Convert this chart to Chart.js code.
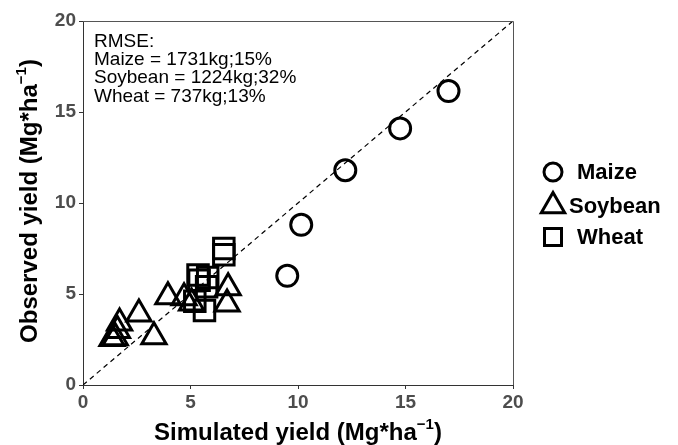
<!DOCTYPE html>
<html>
<head>
<meta charset="utf-8">
<script src="https://cdn.jsdelivr.net/npm/chart.js@4/dist/chart.umd.min.js"></script>
<style>
  html, body { margin: 0; padding: 0; background: #fff; }
  #wrap { width: 678px; height: 445px; }
</style>
</head>
<body>
<div id="wrap"><canvas id="chart" width="678" height="445"></canvas></div>
<script>
// simulated (x) vs observed (y) yield, Mg/ha
const maizeSim = [17.0, 14.75, 12.2, 10.15, 9.5];
const maizeObs = [16.15, 14.1, 11.8, 8.8, 6.0];

const soySim = [1.35, 1.5, 1.6, 1.7, 2.6, 3.3, 3.95, 4.7, 5.05, 6.75, 6.7];
const soyObs = [2.55, 2.6, 3.0, 3.4, 3.9, 2.65, 4.85, 4.8, 4.5, 5.35, 4.45];

const wheatSim = [6.55, 6.55, 5.35, 5.4, 5.8, 5.75, 5.65, 5.2];
const wheatObs = [7.5, 7.15, 6.05, 5.75, 5.9, 5.4, 4.1, 4.6];

const axisMin = 0;
const axisMax = 20;
const tickStep = 5;

const seriesNames = ["Maize", "Soybean", "Wheat"];
const seriesShapes = ["circle", "triangle", "rect"];

const rmseLines = [
    "RMSE:",
    "Maize = 1731kg;15%",
    "Soybean = 1224kg;32%",
    "Wheat = 737kg;13%"
];

const xTitle = "Simulated yield (Mg*ha";
const yTitle = "Observed yield (Mg*ha";
const unitSup = "\u22121";

const FONT = "'Liberation Sans', Arial, sans-serif";

function toPoints(xs, ys) {
    return xs.map((x, i) => ({ x: x, y: ys[i] }));
}

function drawTitle(ctx, text, sup, cx, baseY) {
    ctx.font = "bold 24px " + FONT;
    const w1 = ctx.measureText(text).width;
    ctx.font = "bold 15px " + FONT;
    const w2 = ctx.measureText(sup).width;
    ctx.font = "bold 24px " + FONT;
    const w3 = ctx.measureText(")").width;
    let x = cx - (w1 + w2 + w3) / 2;
    ctx.fillText(text, x, baseY);
    x += w1;
    ctx.font = "bold 15px " + FONT;
    ctx.fillText(sup, x, baseY - 11);
    x += w2;
    ctx.font = "bold 24px " + FONT;
    ctx.fillText(")", x, baseY);
}

function legendShape(ctx, shape, x, y) {
    ctx.beginPath();
    if (shape === "circle") {
        ctx.arc(x, y, 9, 0, Math.PI * 2);
    } else if (shape === "triangle") {
        const r = 13.5;
        ctx.moveTo(x, y - r);
        ctx.lineTo(x + r * 0.866, y + r / 2);
        ctx.lineTo(x - r * 0.866, y + r / 2);
        ctx.closePath();
    } else {
        ctx.rect(x - 8.5, y - 8.5, 17, 17);
    }
    ctx.stroke();
}

const decorations = {
    id: "decorations",
    afterDraw(chart) {
        const ctx = chart.ctx;
        const area = chart.chartArea;
        ctx.save();

        // panel border (top + right)
        ctx.strokeStyle = "#555";
        ctx.lineWidth = 1;
        ctx.beginPath();
        ctx.moveTo(area.left, Math.round(area.top) + 0.5);
        ctx.lineTo(Math.round(area.right) + 0.5, Math.round(area.top) + 0.5);
        ctx.lineTo(Math.round(area.right) + 0.5, area.bottom);
        ctx.stroke();

        // RMSE note
        ctx.fillStyle = "#000";
        ctx.font = "19px " + FONT;
        ctx.textAlign = "left";
        ctx.textBaseline = "alphabetic";
        rmseLines.forEach((line, i) => {
            ctx.fillText(line, 94, 46.5 + i * 18.35);
        });

        // axis titles
        drawTitle(ctx, xTitle, unitSup, 298, 440);
        ctx.save();
        ctx.translate(37, 201);
        ctx.rotate(-Math.PI / 2);
        drawTitle(ctx, yTitle, unitSup, 0, 0);
        ctx.restore();

        // legend
        const ly = [172, 206, 237];
        const lx = [577, 569, 577];
        ctx.strokeStyle = "#000";
        ctx.lineWidth = 3;
        ctx.lineJoin = "miter";
        seriesShapes.forEach((s, i) => legendShape(ctx, s, 553, ly[i]));
        ctx.font = "bold 22px " + FONT;
        ctx.textBaseline = "middle";
        seriesNames.forEach((n, i) => ctx.fillText(n, lx[i], ly[i] + 1));

        ctx.restore();
    }
};

function scaleOpts(isX) {
    return {
        type: "linear",
        min: axisMin,
        max: axisMax,
        ticks: {
            stepSize: tickStep,
            color: "#4d4d4d",
            font: { family: FONT, size: 19, weight: "bold" },
            padding: isX ? 2 : 3,
            maxRotation: 0
        },
        grid: {
            drawOnChartArea: false,
            drawTicks: true,
            tickLength: 4,
            color: "#333",
            lineWidth: 1
        },
        border: { display: true, color: "#333", width: 1 },
        afterFit: isX ? s => { s.height = 60; } : s => { s.width = 83; }
    };
}

function pointSet(name, shape, xs, ys, radius) {
    return {
        type: "scatter",
        label: name,
        data: toPoints(xs, ys),
        pointStyle: shape,
        pointRadius: radius,
        pointBorderWidth: 3,
        pointBorderColor: "#000",
        pointBackgroundColor: "rgba(0,0,0,0)",
        order: 1
    };
}

new Chart(document.getElementById("chart"), {
    type: "scatter",
    data: {
        datasets: [
            pointSet(seriesNames[0], seriesShapes[0], maizeSim, maizeObs, 10.5),
            pointSet(seriesNames[1], seriesShapes[1], soySim, soyObs, 14),
            pointSet(seriesNames[2], seriesShapes[2], wheatSim, wheatObs, 14.5),
            {
                type: "line",
                label: "1:1",
                data: [{ x: axisMin, y: axisMin }, { x: axisMax, y: axisMax }],
                borderColor: "#000",
                borderWidth: 1.2,
                borderDash: [5, 4],
                pointRadius: 0,
                fill: false,
                order: 10
            }
        ]
    },
    options: {
        responsive: false,
        animation: false,
        layout: { padding: { top: 21, right: 165, left: 0, bottom: 0 } },
        plugins: {
            legend: { display: false },
            tooltip: { enabled: false }
        },
        scales: {
            x: scaleOpts(true),
            y: scaleOpts(false)
        }
    },
    plugins: [decorations]
});
</script>
</body>
</html>
